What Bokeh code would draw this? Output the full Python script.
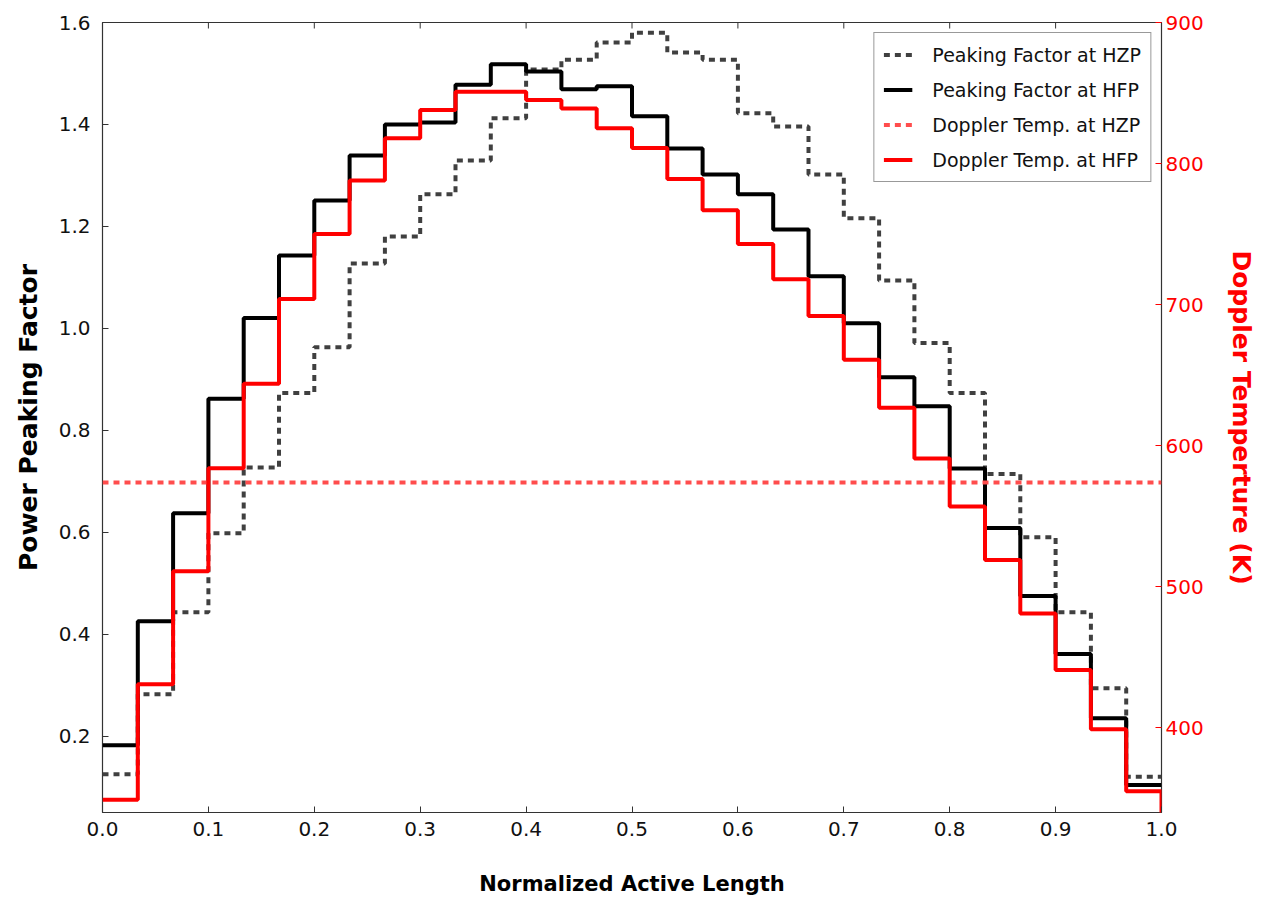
import numpy as np
from bokeh.plotting import figure
from bokeh.models import (Range1d, LinearAxis, Legend, LegendItem, FixedTicker,
                          PrintfTickFormatter)
from bokeh.embed import file_html
from bokeh.resources import INLINE

# ---- data -------------------------------------------------------------
axial_edges = np.linspace(0.0, 1.0, 31)          # 30 axial nodes, normalized

pf_hzp = [0.125, 0.282, 0.443, 0.598, 0.727, 0.873, 0.963, 1.127, 1.180, 1.263,
          1.329, 1.412, 1.508, 1.527, 1.561, 1.580, 1.541, 1.527, 1.422, 1.396,
          1.302, 1.216, 1.094, 0.971, 0.873, 0.714, 0.590, 0.443, 0.294, 0.120]

pf_hfp = [0.182, 0.425, 0.637, 0.862, 1.020, 1.143, 1.251, 1.339, 1.400, 1.404,
          1.478, 1.518, 1.504, 1.469, 1.475, 1.416, 1.353, 1.302, 1.263, 1.194,
          1.102, 1.010, 0.904, 0.847, 0.725, 0.608, 0.475, 0.361, 0.235, 0.104]

tdop_hfp = [349, 431, 511, 584, 644, 704, 750, 788, 818, 838,
            851, 851, 845, 839, 825, 811, 789, 767, 743, 718,
            692, 661, 627, 591, 557, 519, 481, 441, 399, 355]
tdop_hfp_end = 300                                  # final drop at x = 1.0

tdop_hzp = 574                                      # uniform HZP temperature (K)

x_ticks = [0.0, 0.1, 0.2, 0.3, 0.4, 0.5, 0.6, 0.7, 0.8, 0.9, 1.0]
pf_ticks = [0.2, 0.4, 0.6, 0.8, 1.0, 1.2, 1.4, 1.6]
t_ticks = [400, 500, 600, 700, 800, 900]

# ---- figure -----------------------------------------------------------
FONT = "DejaVu Sans"
RED = "#ff0000"
FRAME = "#333333"

p = figure(frame_width=1059, frame_height=790,
           x_range=Range1d(0.0, 1.0), y_range=Range1d(0.05, 1.6),
           min_border_left=102, min_border_right=94,
           min_border_top=22, min_border_bottom=79,
           toolbar_location=None, output_backend="svg")
p.extra_y_ranges = {"temp": Range1d(340, 900)}
p.xgrid.visible = False
p.ygrid.visible = False
p.outline_line_color = FRAME
p.outline_line_width = 1.2
p.background_fill_color = "white"
p.border_fill_color = "white"

x_step = list(axial_edges)

r_hzp = p.step(x_step, pf_hzp + [pf_hzp[-1]], mode="after",
               line_color="#404040", line_width=4, line_dash="6 5")
r_hfp = p.step(x_step, pf_hfp + [pf_hfp[-1]], mode="after",
               line_color="black", line_width=4)
r_thzp = p.line([axial_edges[0], axial_edges[-1]], [tdop_hzp, tdop_hzp],
                y_range_name="temp", line_color="#ff4d4d", line_width=4,
                line_dash="6 5")
r_thfp = p.step(x_step + [axial_edges[-1]], tdop_hfp + [tdop_hfp[-1], tdop_hfp_end],
                mode="after", y_range_name="temp",
                line_color=RED, line_width=4)

# mirrored tick marks along the top edge (inward)
p.scatter(x_ticks, [p.y_range.end] * len(x_ticks), marker="dash",
          angle=np.pi / 2, size=12, line_color=FRAME, line_width=1)

# ---- axes -------------------------------------------------------------
def style_axis(ax, color="black"):
    ax.major_tick_in = 6
    ax.major_tick_out = 0
    ax.minor_tick_in = 0
    ax.minor_tick_out = 0
    ax.axis_line_color = None
    ax.major_tick_line_color = FRAME if color == "black" else color
    ax.major_label_text_font = FONT
    ax.major_label_text_font_size = "20px"
    ax.major_label_text_color = "#111111" if color == "black" else color
    ax.axis_label_text_font = FONT
    ax.axis_label_text_font_style = "bold"

xa = p.xaxis[0]
style_axis(xa)
xa.ticker = FixedTicker(ticks=x_ticks)
xa.formatter = PrintfTickFormatter(format="%.1f")
xa.major_label_standoff = 9
xa.axis_label = "Normalized Active Length"
xa.axis_label_text_font_size = "21px"
xa.axis_label_standoff = 33
xa.axis_label_text_color = "black"

ya = p.yaxis[0]
style_axis(ya)
ya.ticker = FixedTicker(ticks=pf_ticks)
ya.formatter = PrintfTickFormatter(format="%.1f")
ya.major_label_standoff = 12
ya.axis_label = "Power Peaking Factor"
ya.axis_label_text_font_size = "25px"
ya.axis_label_standoff = 13
ya.axis_label_text_color = "black"

ra = LinearAxis(y_range_name="temp")
style_axis(ra, color=RED)
ra.ticker = FixedTicker(ticks=t_ticks)
ra.major_label_standoff = 4
ra.axis_label = "Doppler Temperture (K)"
ra.axis_label_text_font_size = "25px"
ra.axis_label_standoff = 20
ra.axis_label_text_color = RED
p.add_layout(ra, "right")

# ---- legend -----------------------------------------------------------
legend = Legend(items=[
    LegendItem(label="Peaking Factor at HZP", renderers=[r_hzp]),
    LegendItem(label="Peaking Factor at HFP", renderers=[r_hfp]),
    LegendItem(label="Doppler Temp. at HZP", renderers=[r_thzp]),
    LegendItem(label="Doppler Temp. at HFP", renderers=[r_thfp]),
], location="top_right")
legend.margin = 10
legend.padding = 9
legend.spacing = 10
legend.glyph_width = 29
legend.glyph_height = 25
legend.label_height = 25
legend.label_standoff = 20
legend.label_text_font = FONT
legend.label_text_font_size = "19px"
legend.label_text_color = "#111111"
legend.border_line_color = FRAME
legend.border_line_width = 1
legend.background_fill_color = "white"
legend.background_fill_alpha = 1.0
p.add_layout(legend)

open("out.html", "w").write(file_html(p, INLINE))
